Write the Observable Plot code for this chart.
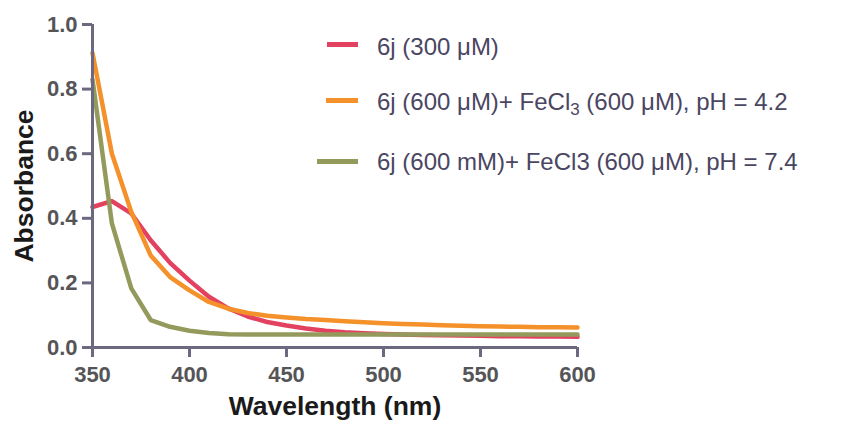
<!DOCTYPE html>
<html>
<head>
<meta charset="utf-8">
<script src="https://cdn.jsdelivr.net/npm/d3@7"></script>
<script src="https://cdn.jsdelivr.net/npm/@observablehq/plot@0.6"></script>
<style>
  html, body { margin: 0; padding: 0; background: #fff; }
  #wrap { position: relative; width: 853px; height: 424px; font-family: "Liberation Sans", Arial, sans-serif; }
  .leg { position: absolute; font-size: 24px; line-height: 24px; color: #4a4662; white-space: nowrap; }
  .sw { position: absolute; height: 5px; }
  sub { font-size: 17px; vertical-align: -5px; line-height: 0; }
</style>
</head>
<body>
<div id="wrap"></div>
<script>
const wavelengths = [350,360,370,380,390,400,410,420,430,440,450,460,470,480,490,500,510,520,530,540,550,560,570,580,590,600];
const red300 = [0.435,0.453,0.415,0.332,0.262,0.207,0.157,0.121,0.096,0.079,0.068,0.059,0.052,0.047,0.044,0.042,0.040,0.039,0.038,0.037,0.036,0.035,0.035,0.034,0.034,0.033];
const orange42 = [0.912,0.600,0.420,0.285,0.218,0.177,0.141,0.120,0.107,0.098,0.093,0.088,0.085,0.081,0.078,0.075,0.073,0.071,0.069,0.067,0.066,0.065,0.064,0.063,0.063,0.062];
const olive74 = [0.830,0.384,0.183,0.085,0.064,0.052,0.045,0.041,0.040,0.040,0.040,0.040,0.040,0.040,0.040,0.040,0.040,0.040,0.040,0.040,0.040,0.040,0.040,0.040,0.040,0.040];
const seriesNames = ["6j (300 μM)", "6j (600 μM)+ FeCl3 (600 μM), pH = 4.2", "6j (600 mM)+ FeCl3 (600 μM), pH = 7.4"];
const seriesColors = ["#e2425f", "#f5912a", "#949a5c"];
const xTicks = [350,400,450,500,550,600];
const yTicks = [0,0.2,0.4,0.6,0.8,1.0];

const allSeries = [red300, orange42, olive74];
const rows = [];
allSeries.forEach((vals, s) => vals.forEach((v, i) => rows.push({wl: wavelengths[i], abs: v, series: seriesNames[s]})));

const axisColor = "#6b6880";
const chart = Plot.plot({
  width: 853,
  height: 424,
  marginLeft: 92,
  marginRight: 276,
  marginTop: 24,
  marginBottom: 77,
  style: {fontFamily: "'Liberation Sans', Arial, sans-serif", background: "transparent", overflow: "visible"},
  x: {domain: [350, 600]},
  y: {domain: [0, 1.0]},
  color: {domain: seriesNames, range: seriesColors},
  marks: [
    Plot.line(rows, {x: "wl", y: "abs", z: "series", stroke: "series", strokeWidth: 4.5, strokeLinejoin: "round"}),
    Plot.ruleX([350], {y1: 0, y2: 1.0, stroke: axisColor, strokeWidth: 3}),
    Plot.ruleY([0], {x1: 350, x2: 600, stroke: axisColor, strokeWidth: 3}),
    Plot.axisX(xTicks, {tickSize: 10, tickPadding: 9, strokeWidth: 3, stroke: axisColor, fill: "#555558", fontSize: 22, fontWeight: "bold", label: null, tickFormat: d => String(d)}),
    Plot.axisY(yTicks, {tickSize: 10, tickPadding: 5, strokeWidth: 3, stroke: axisColor, fill: "#555558", fontSize: 22, fontWeight: "bold", label: null, tickFormat: d => d.toFixed(1)}),
    Plot.axisX({ticks: [], label: "Wavelength (nm)", labelAnchor: "center", labelArrow: "none", labelOffset: 67, fontSize: 26.5, fontWeight: "bold", fill: "#1a1a1a", tickSize: 0}),
    Plot.axisY({ticks: [], label: "Absorbance", labelAnchor: "center", labelArrow: "none", labelOffset: 78, fontSize: 26.5, fontWeight: "bold", fill: "#1a1a1a", tickSize: 0})
  ]
});
const wrap = document.getElementById("wrap");
wrap.appendChild(chart);

const legendTops = [35, 90, 150];
const swatchY = [42, 98, 159];
const swatchX = [327, 326, 317];
const legendHtml = ["6j (300 μM)", "6j (600 μM)+ FeCl<sub>3</sub> (600 μM), pH = 4.2", "6j (600 mM)+ FeCl3 (600 μM), pH = 7.4"];
legendHtml.forEach((h, i) => {
  const sw = document.createElement("div");
  sw.className = "sw";
  sw.style.left = swatchX[i] + "px";
  sw.style.width = (358 - swatchX[i]) + "px";
  sw.style.top = swatchY[i] + "px";
  sw.style.background = seriesColors[i];
  wrap.appendChild(sw);
  const t = document.createElement("div");
  t.className = "leg";
  t.style.left = "377px";
  t.style.top = legendTops[i] + "px";
  t.innerHTML = h;
  wrap.appendChild(t);
});
</script>
</body>
</html>
